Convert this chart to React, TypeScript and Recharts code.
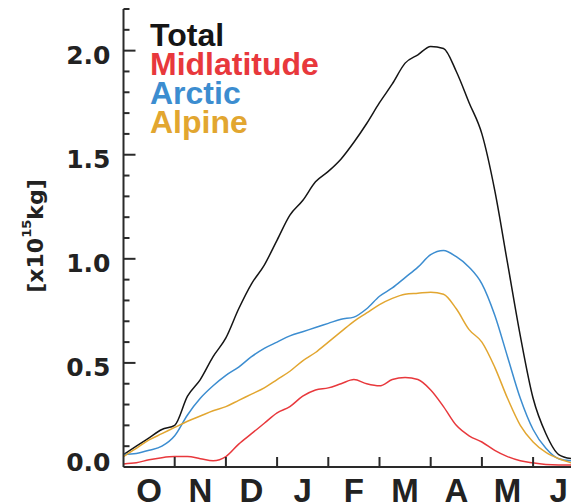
import { LineChart, Line, XAxis, YAxis, Legend } from 'recharts';

// months since 1 October
const monthPos = [
  0, 0.25, 0.5, 0.75, 1, 1.25, 1.5, 1.75, 2, 2.25, 2.5, 2.75, 3, 3.25, 3.5, 3.75, 4, 4.25,
  4.5, 4.75, 5, 5.25, 5.5, 5.75, 6, 6.25, 6.5, 6.75, 7, 7.25, 7.5, 7.75, 8, 8.25, 8.5, 8.75,
];

const total = [
  0.06, 0.1, 0.14, 0.18, 0.2, 0.34, 0.42, 0.53, 0.62, 0.76, 0.88, 0.97, 1.09, 1.21, 1.28, 1.37,
  1.42, 1.48, 1.56, 1.65, 1.75, 1.84, 1.94, 1.98, 2.02, 2.01, 1.9, 1.75, 1.6, 1.33, 0.98, 0.63,
  0.33, 0.16, 0.06, 0.04,
];
const midlatitude = [
  0.015, 0.02, 0.035, 0.045, 0.05, 0.05, 0.04, 0.03, 0.05, 0.11, 0.16, 0.21, 0.26, 0.29, 0.34,
  0.37, 0.38, 0.4, 0.42, 0.4, 0.39, 0.42, 0.43, 0.42, 0.37, 0.29, 0.2, 0.15, 0.12, 0.08, 0.05,
  0.03, 0.02, 0.012, 0.01, 0.01,
];
const arctic = [
  0.06, 0.065, 0.08, 0.1, 0.15, 0.25, 0.33, 0.39, 0.44, 0.48, 0.53, 0.57, 0.6, 0.63, 0.65, 0.67,
  0.69, 0.71, 0.72, 0.76, 0.82, 0.86, 0.91, 0.96, 1.02, 1.04, 1.01, 0.96, 0.88, 0.73, 0.53, 0.33,
  0.18, 0.09, 0.04, 0.03,
];
const alpine = [
  0.05, 0.09, 0.13, 0.16, 0.19, 0.22, 0.245, 0.27, 0.29, 0.32, 0.35, 0.38, 0.42, 0.46, 0.51,
  0.55, 0.6, 0.65, 0.7, 0.74, 0.78, 0.81, 0.83, 0.835, 0.84, 0.83, 0.76, 0.66, 0.6, 0.48, 0.33,
  0.2, 0.12, 0.07, 0.04, 0.02,
];

const monthLabels = ['O', 'N', 'D', 'J', 'F', 'M', 'A', 'M', 'J', 'J'];
const yTicks = [
  0, 0.1, 0.2, 0.3, 0.4, 0.5, 0.6, 0.7, 0.8, 0.9, 1, 1.1, 1.2, 1.3, 1.4, 1.5, 1.6, 1.7, 1.8, 1.9,
  2, 2.1, 2.2,
];

const series = [
  { key: 'total', name: 'Total', color: '#151515', values: total },
  { key: 'mid', name: 'Midlatitude', color: '#e8383c', values: midlatitude },
  { key: 'arctic', name: 'Arctic', color: '#3c8dd0', values: arctic },
  { key: 'alpine', name: 'Alpine', color: '#e2a630', values: alpine },
];

const data = monthPos.map((m, i) => {
  const row: Record<string, number> = { m };
  series.forEach((s) => (row[s.key] = s.values[i]));
  return row;
});

// integer = month boundary (tick mark), half = month label
const monthTicks: number[] = [];
monthLabels.forEach((_, i) => monthTicks.push(i, i + 0.5));

const axisColor = '#2a2a2a';

const BottomTick = (props: any) => {
  const { x, y, payload } = props;
  const v = payload.value;
  if (Number.isInteger(v)) {
    if (v === 0) return null;
    return <line x1={x} x2={x} y1={y} y2={y - 10} stroke={axisColor} strokeWidth={2} />;
  }
  return (
    <text
      x={x}
      y={y + 35}
      textAnchor="middle"
      fontFamily="Liberation Sans, Arial, sans-serif"
      fontWeight="bold"
      fontSize={33}
      fill="#222"
    >
      {monthLabels[Math.floor(v)]}
    </text>
  );
};

const TopTick = (props: any) => {
  const { x, y, payload } = props;
  if (payload.value === 0) return null;
  return <line x1={x} x2={x} y1={y} y2={y + 9} stroke={axisColor} strokeWidth={2} />;
};

const LeftTick = (props: any) => {
  const { x, y, payload } = props;
  const v = payload.value;
  const major = Math.round(v * 10) % 5 === 0;
  return (
    <g>
      {v > 0 && (
        <line x1={x} x2={x + (major ? 12 : 6)} y1={y} y2={y} stroke={axisColor} strokeWidth={2} />
      )}
      {major && (
        <text
          x={x - 13}
          y={v === 0 ? y - 5 : y + 5}
          textAnchor="end"
          dominantBaseline="central"
          fontFamily="DejaVu Sans, sans-serif"
          fontWeight="bold"
          fontSize={25}
          fill="#222"
        >
          {v.toFixed(1)}
        </text>
      )}
    </g>
  );
};

const YLabel = () => (
  <text
    x={27}
    y={228}
    transform="rotate(-90, 27, 228)"
    textAnchor="middle"
    dominantBaseline="central"
    fontFamily="DejaVu Sans, sans-serif"
    fontWeight="bold"
    fontSize={22}
    fill="#222"
  >
    [x10
    <tspan dy={-9} fontSize={13}>
      15
    </tspan>
    <tspan dy={9}>kg]</tspan>
  </text>
);

const LegendBox = () => (
  <div
    style={{
      fontFamily: 'Liberation Sans, Arial, sans-serif',
      fontWeight: 'bold',
      fontSize: 32,
      lineHeight: '29px',
      whiteSpace: 'nowrap',
    }}
  >
    {series.map((s) => (
      <div key={s.key} style={{ color: s.color }}>
        {s.name}
      </div>
    ))}
  </div>
);

export default function App() {
  return (
    <div style={{ position: 'absolute', left: 8, top: 8, width: 563, height: 496, overflow: 'hidden' }}>
      <LineChart width={627.5} height={496} data={data} margin={{ top: 1, right: 0, left: 0, bottom: 0 }}>
        <XAxis
          dataKey="m"
          type="number"
          domain={[0, 10]}
          ticks={monthTicks}
          interval={0}
          tick={<BottomTick />}
          tickLine={false}
          tickSize={0}
          tickMargin={0}
          height={37}
          axisLine={{ stroke: axisColor, strokeWidth: 2 }}
        />
        <XAxis
          xAxisId="top"
          orientation="top"
          dataKey="m"
          type="number"
          domain={[0, 10]}
          ticks={monthTicks.filter((t) => Number.isInteger(t))}
          interval={0}
          tick={<TopTick />}
          tickLine={false}
          tickSize={0}
          tickMargin={0}
          height={0}
          axisLine={{ stroke: axisColor, strokeWidth: 2 }}
        />
        <YAxis
          type="number"
          domain={[0, 2.2]}
          ticks={yTicks}
          interval={0}
          tick={<LeftTick />}
          tickLine={false}
          tickSize={0}
          tickMargin={0}
          width={115.5}
          axisLine={{ stroke: axisColor, strokeWidth: 2 }}
          label={<YLabel />}
        />
        <Legend
          layout="vertical"
          align="center"
          verticalAlign="middle"
          content={<LegendBox />}
          wrapperStyle={{ top: 13, left: 142, width: 'auto' }}
        />
        {series.map((s) => (
          <Line
            key={s.key}
            dataKey={s.key}
            name={s.name}
            stroke={s.color}
            strokeWidth={1.5}
            dot={false}
            type="monotone"
            isAnimationActive={false}
            legendType="plainline"
          />
        ))}
      </LineChart>
    </div>
  );
}
